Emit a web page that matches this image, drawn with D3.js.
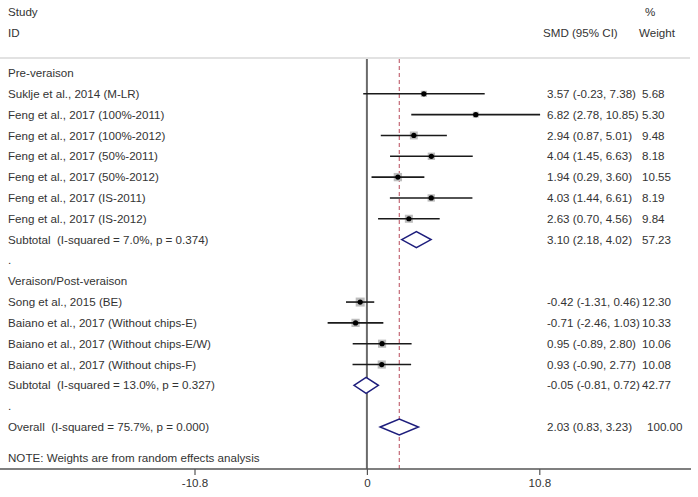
<!DOCTYPE html>
<html>
<head>
<meta charset="utf-8">
<script src="https://cdn.jsdelivr.net/npm/d3@7"></script>
<style>
  html, body { margin: 0; padding: 0; background: #fff; }
  svg text { font-family: Arial, "Liberation Sans", sans-serif; font-size: 11.6px; fill: #333; white-space: pre; }
</style>
</head>
<body>
<svg id="chart" width="698" height="497"></svg>
<script>
// ---------- data ----------
const groups = ["Pre-veraison", "Veraison/Post-veraison"];
const studyLabels = [
  "Suklje et al., 2014 (M-LR)",
  "Feng et al., 2017 (100%-2011)",
  "Feng et al., 2017 (100%-2012)",
  "Feng et al., 2017 (50%-2011)",
  "Feng et al., 2017 (50%-2012)",
  "Feng et al., 2017 (IS-2011)",
  "Feng et al., 2017 (IS-2012)",
  "Song et al., 2015 (BE)",
  "Baiano et al., 2017 (Without chips-E)",
  "Baiano et al., 2017 (Without chips-E/W)",
  "Baiano et al., 2017 (Without chips-F)"
];
const studyGroup  = [0, 0, 0, 0, 0, 0, 0, 1, 1, 1, 1];
const studySMD    = [3.57, 6.82, 2.94, 4.04, 1.94, 4.03, 2.63, -0.42, -0.71, 0.95, 0.93];
const studyLo     = [-0.23, 2.78, 0.87, 1.45, 0.29, 1.44, 0.70, -1.31, -2.46, -0.89, -0.90];
const studyHi     = [7.38, 10.85, 5.01, 6.63, 3.60, 6.61, 4.56, 0.46, 1.03, 2.80, 2.77];
const studyWeight = [5.68, 5.30, 9.48, 8.18, 10.55, 8.19, 9.84, 12.30, 10.33, 10.06, 10.08];

const subtotalLabels = ["Subtotal  (I-squared = 7.0%, p = 0.374)", "Subtotal  (I-squared = 13.0%, p = 0.327)"];
const subtotalSMD    = [3.10, -0.05];
const subtotalLo     = [2.18, -0.81];
const subtotalHi     = [4.02, 0.72];
const subtotalWeight = [57.23, 42.77];

const overallLabel  = "Overall  (I-squared = 75.7%, p = 0.000)";
const overallSMD    = 2.03;
const overallLo     = 0.83;
const overallHi     = 3.23;
const overallWeight = 100.00;

const xTicks = [-10.8, 0, 10.8];
const noteText = "NOTE: Weights are from random effects analysis";

// ---------- build rows ----------
const rows = [];
groups.forEach((g, gi) => {
  rows.push({type: "group", label: g});
  studyLabels.forEach((s, i) => {
    if (studyGroup[i] === gi) rows.push({type: "study", label: s, est: studySMD[i], lo: studyLo[i], hi: studyHi[i], w: studyWeight[i]});
  });
  rows.push({type: "diamond", label: subtotalLabels[gi], est: subtotalSMD[gi], lo: subtotalLo[gi], hi: subtotalHi[gi], w: subtotalWeight[gi]});
  rows.push({type: "blank", label: "."});
});
rows.push({type: "diamond", label: overallLabel, est: overallSMD, lo: overallLo, hi: overallHi, w: overallWeight});

// ---------- layout ----------
const svg = d3.select("#chart");
const x = d3.scaleLinear().domain([-10.8, 10.8]).range([194.5, 539.3]);
const y = d3.scaleLinear().domain([0, rows.length - 1]).range([73, 427]);
const fmt = v => v.toFixed(2);
const ciText = d => `${fmt(d.est)} (${fmt(d.lo)}, ${fmt(d.hi)})`;
const sq = d3.scaleSqrt().domain([0, d3.max(studyWeight)]).range([0, 9]);

const plotTop = 58, axisY = 469;

// header
svg.append("text").attr("x", 8).attr("y", 12).attr("dy", "0.35em").text("Study");
svg.append("text").attr("x", 8).attr("y", 33).attr("dy", "0.35em").text("ID");
svg.append("text").attr("x", 645).attr("y", 12).attr("dy", "0.35em").text("%");
svg.append("text").attr("x", 543).attr("y", 33).attr("dy", "0.35em").text("SMD (95% CI)");
svg.append("text").attr("x", 639).attr("y", 33).attr("dy", "0.35em").text("Weight");

// separator
svg.append("line").attr("x1", 0).attr("x2", 690).attr("y1", plotTop).attr("y2", plotTop)
  .attr("stroke", "#e2e2e2").attr("stroke-width", 2);

// zero line
svg.append("line").attr("x1", x(0)).attr("x2", x(0)).attr("y1", plotTop + 1).attr("y2", axisY)
  .attr("stroke", "#6a6a6a").attr("stroke-width", 2);

// overall dashed line
svg.append("line").attr("x1", x(overallSMD)).attr("x2", x(overallSMD)).attr("y1", plotTop + 1).attr("y2", axisY)
  .attr("stroke", "#c46875").attr("stroke-width", 1.2).attr("stroke-dasharray", "4,3");

// left labels
svg.append("g").selectAll("text").data(rows).join("text")
  .attr("x", 8).attr("y", (d, i) => y(i)).attr("dy", "0.35em")
  .attr("fill", d => d.type === "blank" ? "#ccc" : "#333")
  .text(d => d.label);

// studies
const st = svg.append("g").selectAll("g").data(rows.map((d, i) => ({...d, i}))).join("g")
  .filter(d => d.type === "study");
st.append("rect")
  .attr("x", d => x(d.est) - sq(d.w) / 2).attr("y", d => y(d.i) - sq(d.w) / 2)
  .attr("width", d => sq(d.w)).attr("height", d => sq(d.w))
  .attr("fill", "#bdbdbd");
st.append("line")
  .attr("x1", d => x(d.lo)).attr("x2", d => x(d.hi))
  .attr("y1", d => y(d.i)).attr("y2", d => y(d.i))
  .attr("stroke", "#1a1a1a").attr("stroke-width", 1.6);
st.append("circle")
  .attr("cx", d => x(d.est)).attr("cy", d => y(d.i)).attr("r", 2.6).attr("fill", "#000");

// diamonds
svg.append("g").selectAll("path").data(rows.map((d, i) => ({...d, i})).filter(d => d.type === "diamond")).join("path")
  .attr("d", d => {
    const cy = y(d.i), h = 8;
    return `M${x(d.lo)},${cy}L${x(d.est)},${cy - h}L${x(d.hi)},${cy}L${x(d.est)},${cy + h}Z`;
  })
  .attr("fill", "#fff").attr("stroke", "#1d1d7c").attr("stroke-width", 1.5);

// right columns
const valRows = rows.map((d, i) => ({...d, i})).filter(d => d.type === "study" || d.type === "diamond");
svg.append("g").selectAll("text").data(valRows).join("text")
  .attr("x", 547).attr("y", d => y(d.i)).attr("dy", "0.35em").text(ciText);
svg.append("g").selectAll("text").data(valRows).join("text")
  .attr("x", d => d.w >= 100 ? 647 : 642).attr("y", d => y(d.i)).attr("dy", "0.35em").text(d => fmt(d.w));

// note
svg.append("text").attr("x", 8).attr("y", 458).attr("dy", "0.35em").text(noteText);

// axis
svg.append("line").attr("x1", 0).attr("x2", 691).attr("y1", axisY).attr("y2", axisY)
  .attr("stroke", "#555").attr("stroke-width", 1.6);
const axis = d3.axisBottom(x).tickValues(xTicks).tickSize(6).tickPadding(4).tickFormat(d => String(d));
const ag = svg.append("g").attr("transform", `translate(0,${axisY})`).call(axis);
ag.select(".domain").remove();
ag.selectAll(".tick line").attr("stroke", "#555").attr("stroke-width", 1.2);
ag.selectAll(".tick text").attr("font-family", null).attr("font-size", null).style("fill", "#333");
</script>
</body>
</html>
